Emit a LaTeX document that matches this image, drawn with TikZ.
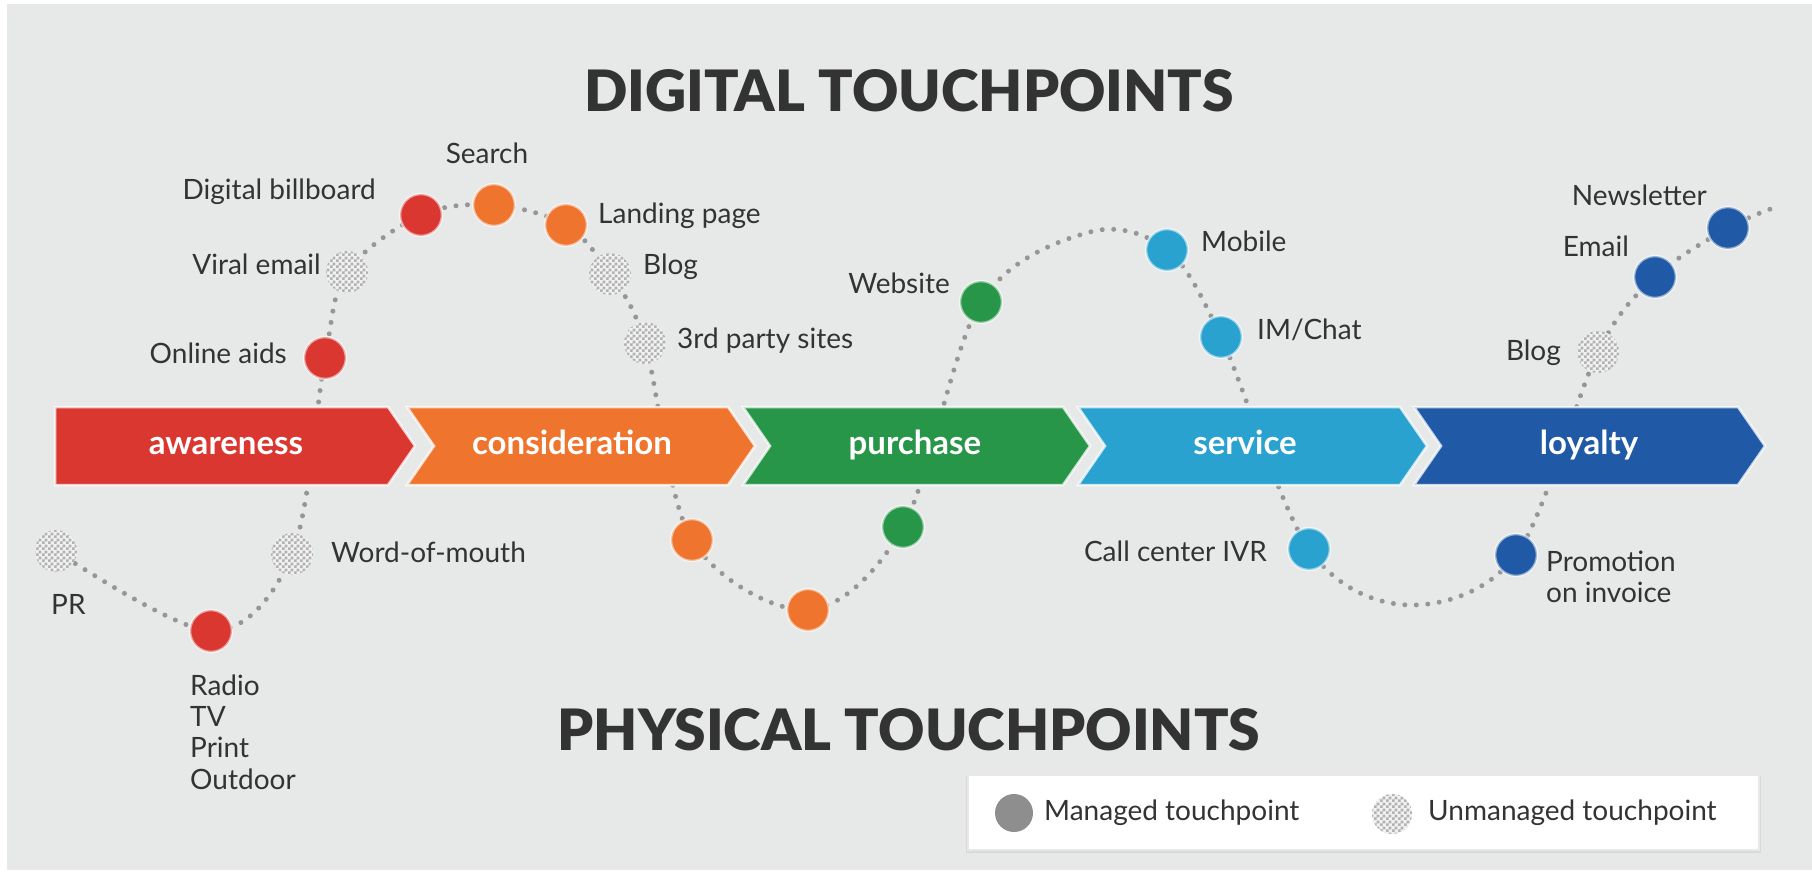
\documentclass[tikz,border=0pt]{standalone}
\usepackage{fontspec}
\setmainfont{Lato}
\newfontfamily\headfont{Lato Black}
\usetikzlibrary{patterns}
\pgfdeclarelayer{background}
\pgfsetlayers{background,main}

% fine checker texture for unmanaged touchpoints
\pgfdeclarepatternformonly{checker}{\pgfpointorigin}{\pgfpoint{6pt}{6pt}}{\pgfpoint{6pt}{6pt}}{%
  \pgfpathrectangle{\pgfpointorigin}{\pgfpoint{3pt}{3pt}}%
  \pgfpathrectangle{\pgfpoint{3pt}{3pt}}{\pgfpoint{3pt}{3pt}}%
  \pgfusepath{fill}}

\definecolor{bg}{HTML}{E7E9E9}
\definecolor{ink}{HTML}{333333}
\definecolor{cRed}{HTML}{DA3731}
\definecolor{cOrange}{HTML}{EF742D}
\definecolor{cGreen}{HTML}{289648}
\definecolor{cCyan}{HTML}{29A2D0}
\definecolor{cBlue}{HTML}{2059A5}
\definecolor{dotgray}{HTML}{969696}
\definecolor{legendgray}{HTML}{8E8E8E}
\definecolor{hatchbase}{HTML}{F1F1F1}
\definecolor{hatchink}{HTML}{B2B2B2}

\tikzset{
  touch/.style={circle, minimum size=42pt, inner sep=0pt, fill=#1,
    draw=white, draw opacity=0.55, line width=2.5pt},
  unmanaged/.style={circle, minimum size=42pt, inner sep=0pt, fill=hatchbase,
    postaction={pattern=checker, pattern color=hatchink}},
  lbl/.style={font=\fontsize{28}{32}\selectfont, text=ink, inner sep=0pt,
    text height=20pt, text depth=6pt},
  stage/.style={font=\fontsize{33}{36}\selectfont\bfseries, text=white,
    inner sep=0pt, text height=24pt, text depth=7pt},
  chevron/.style={fill=#1, draw=white, draw opacity=0.75, line width=2.5pt,
    line join=miter},
  heading/.style={font=\fontsize{57}{62}\selectfont\headfont, text=ink,
    inner sep=0pt, anchor=base},
  journey/.style={draw=dotgray, line width=5pt, line cap=round,
    dash pattern=on 0pt off 11.5pt},
}

\begin{document}
\begin{tikzpicture}[x=1pt, y=-1pt]
\useasboundingbox (0,0) rectangle (1812,874);
\begin{pgfonlayer}{background}
\fill[white] (0,0) rectangle (1812,874);
\fill[bg] (7,4) rectangle (1812,870);
\end{pgfonlayer}

% headings
\node[heading] (digital) at (909,112) {DIGITAL TOUCHPOINTS};
\node[heading] (physical) at (909,750) {PHYSICAL TOUCHPOINTS};

% stage band
\path[chevron=cRed] (55,407) -- (388,407) -- (415,446) -- (388,485) -- (55,485) -- cycle;
\path[chevron=cOrange] (407,407) -- (728,407) -- (755,446) -- (728,485) -- (407,485) -- (434,446) -- cycle;
\path[chevron=cGreen] (743,407) -- (1063,407) -- (1090,446) -- (1063,485) -- (743,485) -- (770,446) -- cycle;
\path[chevron=cCyan] (1078,407) -- (1400,407) -- (1427,446) -- (1400,485) -- (1078,485) -- (1105,446) -- cycle;
\path[chevron=cBlue] (1414,407) -- (1738,407) -- (1765,446) -- (1738,485) -- (1414,485) -- (1441,446) -- cycle;

\node[stage] (awareness) at (226,446) {awareness};
\node[stage] (consideration) at (572,446) {consideration};
\node[stage] (purchase) at (915,446) {purchase};
\node[stage] (service) at (1245,446) {service};
\node[stage] (loyalty) at (1589,446) {loyalty};

% touchpoints along the customer journey
\node[unmanaged] (pr) at (56,551) {};
\node[touch=cRed] (radio) at (211,631) {};
\node[unmanaged] (wom) at (292,554) {};
\node[touch=cRed] (aids) at (325,358) {};
\node[unmanaged] (viral) at (347,272) {};
\node[touch=cRed] (billboard) at (421,215) {};
\node[touch=cOrange] (search) at (494,205) {};
\node[touch=cOrange] (landing) at (566,225) {};
\node[unmanaged] (blogA) at (610,274) {};
\node[unmanaged] (third) at (645,343) {};
\node[touch=cOrange] (orangeA) at (692,540) {};
\node[touch=cOrange] (orangeB) at (808,610) {};
\node[touch=cGreen] (greenA) at (903,527) {};
\node[touch=cGreen] (website) at (981,302) {};
\coordinate (crest) at (1090,232);
\node[touch=cCyan] (mobile) at (1167,250) {};
\node[touch=cCyan] (chat) at (1221,337) {};
\node[touch=cCyan] (call) at (1309,549) {};
\coordinate (trough) at (1409,605);
\node[touch=cBlue] (promo) at (1516,555) {};
\node[unmanaged] (blogB) at (1598,352) {};
\node[touch=cBlue] (email) at (1655,277) {};
\node[touch=cBlue] (news) at (1728,228) {};
\coordinate (tail) at (1776,207);

% the dotted journey line, behind the band and the touchpoints
\begin{pgfonlayer}{background}
\path[journey] plot[smooth, tension=0.55] coordinates {
  (pr.center) (radio.center) (wom.center) (aids.center) (viral.center)
  (billboard.center) (search.center) (landing.center) (blogA.center)
  (third.center) (orangeA.center) (orangeB.center) (greenA.center)
  (website.center) (crest) (mobile.center) (chat.center) (call.center)
  (trough) (promo.center) (blogB.center) (email.center) (news.center) (tail)};
\end{pgfonlayer}

% touchpoint labels
\node[lbl, anchor=center] (tSearch) at (487,157) {Search};
\node[lbl, anchor=east] (tBillboard) at (376,193) {Digital billboard};
\node[lbl, anchor=west] (tLanding) at (598,217) {Landing page};
\node[lbl, anchor=east] (tViral) at (321,268) {Viral email};
\node[lbl, anchor=west] (tBlogA) at (643,268) {Blog};
\node[lbl, anchor=east] (tAids) at (287,357) {Online aids};
\node[lbl, anchor=west] (tThird) at (677,342) {3rd party sites};
\node[lbl, anchor=east] (tWebsite) at (950,287) {Website};
\node[lbl, anchor=west] (tMobile) at (1201,245) {Mobile};
\node[lbl, anchor=west] (tChat) at (1257,333) {IM/Chat};
\node[lbl, anchor=east] (tNews) at (1707,199) {Newsletter};
\node[lbl, anchor=east] (tEmail) at (1629,250) {Email};
\node[lbl, anchor=east] (tBlogB) at (1561,353) {Blog};
\node[lbl, anchor=west] (tWom) at (331,555) {Word-of-mouth};
\node[lbl, anchor=west] (tPR) at (51,607) {PR};
\node[lbl, anchor=west] (tRadio) at (190,688) {Radio};
\node[lbl, anchor=west] (tTV) at (190,719) {TV};
\node[lbl, anchor=west] (tPrint) at (190,750) {Print};
\node[lbl, anchor=west] (tOutdoor) at (190,782) {Outdoor};
\node[lbl, anchor=east] (tCall) at (1267,554) {Call center IVR};
\node[lbl, anchor=west] (tPromo) at (1546,564) {Promotion};
\node[lbl, anchor=west] (tInvoice) at (1546,595) {on invoice};

% legend
\fill[gray!30] (966,776) rectangle (1761,853);
\node[draw=gray!18, line width=1.5pt, fill=white, minimum width=791pt,
  minimum height=75pt, inner sep=0pt] (legend) at (1363.5,812.5) {};
\node[circle, minimum size=38pt, inner sep=0pt, fill=legendgray] (keyM) at (1014,813) {};
\node[lbl, anchor=west] (keyMtext) at (1044,813) {Managed touchpoint};
\node[unmanaged, minimum size=40pt] (keyU) at (1392,814) {};
\node[lbl, anchor=west] (keyUtext) at (1428,813) {Unmanaged touchpoint};
\end{tikzpicture}
\end{document}
